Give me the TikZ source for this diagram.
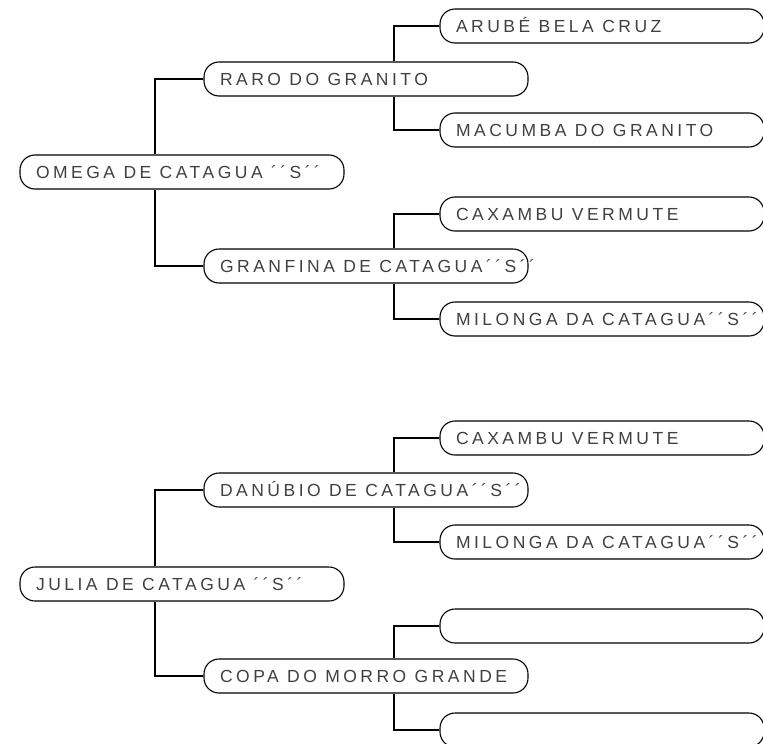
\documentclass[tikz,border=0pt]{standalone}
\usepackage{fontspec}
\setmainfont{Liberation Sans}
\newfontfamily\spaced[LetterSpace=20]{Liberation Sans}
\usetikzlibrary{positioning}

\tikzset{
  animal/.style={draw, line width=1.1pt, rounded corners=15pt,
    minimum height=34pt, inner xsep=16pt, inner ysep=0pt,
    text height=12.5pt, text depth=0pt, text=black!75,
    font=\spaced\fontsize{17.5pt}{20pt}\selectfont},
  link/.style={line width=1.1pt}
}
\newcommand{\nome}[1]{\makebox[292pt][l]{#1}}

\begin{document}
\begin{tikzpicture}[x=1pt,y=-1pt,on grid]
  \useasboundingbox (0,0) rectangle (763,744);
  % first pedigree
  \node[animal] (omega) at (182,172)  {\nome{OMEGA DE CATAGUA ´´S´´}};
  \node[animal] (raro) [above right=93pt and 184pt of omega]  {\nome{RARO DO GRANITO}};
  \node[animal] (granfina) [below right=94pt and 184pt of omega]  {\nome{GRANFINA DE CATAGUA´´S´´}};
  \node[animal] (arube) [above right=53pt and 236pt of raro]  {\nome{ARUBÉ BELA CRUZ}};
  \node[animal] (macumba) [below right=51pt and 236pt of raro]  {\nome{MACUMBA DO GRANITO}};
  \node[animal] (caxambu) [above right=52pt and 236pt of granfina]  {\nome{CAXAMBU VERMUTE}};
  \node[animal] (milonga) [below right=53pt and 236pt of granfina]  {\nome{MILONGA DA CATAGUA´´S´´}};
  % second pedigree
  \node[animal] (julia) at (182,584)  {\nome{JULIA DE CATAGUA ´´S´´}};
  \node[animal] (danubio) [above right=94pt and 184pt of julia]  {\nome{DANÚBIO DE CATAGUA´´S´´}};
  \node[animal] (copa) [below right=92pt and 184pt of julia]  {\nome{COPA DO MORRO GRANDE}};
  \node[animal] (caxambuB) [above right=52pt and 236pt of danubio]  {\nome{CAXAMBU VERMUTE}};
  \node[animal] (milongaB) [below right=52pt and 236pt of danubio]  {\nome{MILONGA DA CATAGUA´´S´´}};
  \node[animal] (vazioA) [above right=50pt and 236pt of copa]  {\nome{}};
  \node[animal] (vazioB) [below right=54pt and 236pt of copa]  {\nome{}};

  \draw[link] (raro.west) -| ([xshift=-27pt]omega.north);
  \draw[link] (granfina.west) -| ([xshift=-27pt]omega.south);
  \draw[link] (arube.west) -| ([xshift=28pt]raro.north);
  \draw[link] (macumba.west) -| ([xshift=28pt]raro.south);
  \draw[link] (caxambu.west) -| ([xshift=28pt]granfina.north);
  \draw[link] (milonga.west) -| ([xshift=28pt]granfina.south);
  \draw[link] (danubio.west) -| ([xshift=-27pt]julia.north);
  \draw[link] (copa.west) -| ([xshift=-27pt]julia.south);
  \draw[link] (caxambuB.west) -| ([xshift=28pt]danubio.north);
  \draw[link] (milongaB.west) -| ([xshift=28pt]danubio.south);
  \draw[link] (vazioA.west) -| ([xshift=28pt]copa.north);
  \draw[link] (vazioB.west) -| ([xshift=28pt]copa.south);
\end{tikzpicture}
\end{document}
